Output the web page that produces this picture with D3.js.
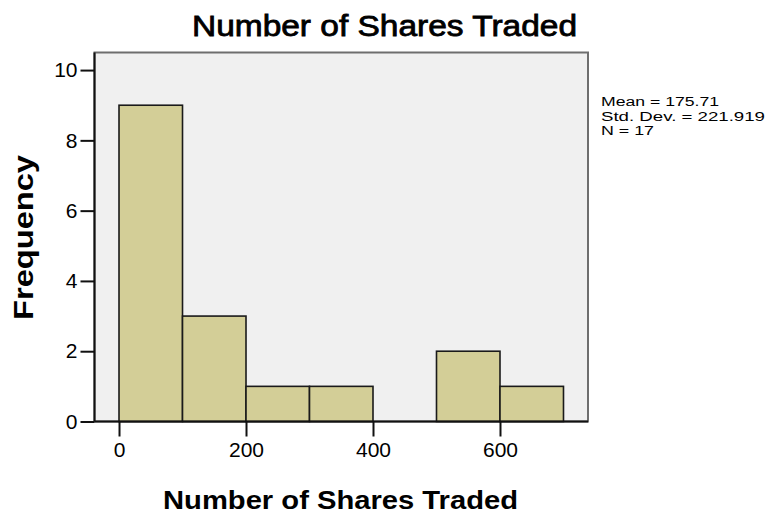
<!DOCTYPE html>
<html>
<head>
<meta charset="utf-8">
<script src="https://cdn.jsdelivr.net/npm/d3@7"></script>
<style>
  body { margin: 0; background: #fff; }
  text { font-family: "Liberation Sans", Arial, sans-serif; fill: #000; }
</style>
</head>
<body>
<div id="hist"></div>
<script>
// data: bin edges and counts
const binStart = [0, 100, 200, 300, 500, 600];
const binEnd   = [100, 200, 300, 400, 600, 700];
const counts   = [9, 3, 1, 1, 2, 1];
const xTicks = [0, 200, 400, 600];
const yTicks = [0, 2, 4, 6, 8, 10];
const statLines = ["Mean = 175.71", "Std. Dev. = 221.919", "N = 17"];

const width = 768, height = 518;
// plot box in pixels
const box = {left: 94.5, right: 588, top: 52.5, bottom: 421.5};

const svg = d3.select("#hist")
  .append("svg")
    .attr("width", width)
    .attr("height", height);

const x = d3.scaleLinear()
  .domain([-38.6, 738.6])
  .range([box.left, box.right]);

const y = d3.scaleLinear()
  .domain([0, 10.5])
  .range([box.bottom, box.top]);

//plot background
svg.append("rect")
  .attr("x", box.left)
  .attr("y", box.top)
  .attr("width", box.right - box.left)
  .attr("height", box.bottom - box.top)
  .attr("fill", "#f0f0f0")
  .attr("stroke", "#6e6e6e")
  .attr("stroke-width", 2);

//bars
svg.selectAll("rect.bar")
  .data(counts)
  .join("rect")
    .attr("class", "bar")
    .attr("x", (d, i) => x(binStart[i]))
    .attr("y", d => y(d))
    .attr("width", (d, i) => x(binEnd[i]) - x(binStart[i]))
    .attr("height", d => y(0) - y(d))
    .attr("fill", "#d3ce97")
    .attr("stroke", "#1a1a1a")
    .attr("stroke-width", 1.6);

//axis lines (left + bottom are black)
svg.append("line")
  .attr("x1", box.left).attr("x2", box.left)
  .attr("y1", box.top).attr("y2", box.bottom)
  .attr("stroke", "#111").attr("stroke-width", 2);
svg.append("line")
  .attr("x1", box.left).attr("x2", box.right)
  .attr("y1", box.bottom).attr("y2", box.bottom)
  .attr("stroke", "#111").attr("stroke-width", 2);

//y axis
const yAxis = svg.append("g")
  .attr("transform", `translate(${box.left},0)`)
  .call(d3.axisLeft(y).tickValues(yTicks).tickSize(14).tickPadding(3));
yAxis.select(".domain").remove();
yAxis.selectAll(".tick line").attr("stroke", "#111").attr("stroke-width", 2);
yAxis.selectAll(".tick text")
  .style("font-size", "21px")
  .style("font-family", "Liberation Sans, Arial, sans-serif")
  .attr("fill", "#111");

//x axis
const xAxis = svg.append("g")
  .attr("transform", `translate(0,${box.bottom})`)
  .call(d3.axisBottom(x).tickValues(xTicks).tickSize(15).tickPadding(6));
xAxis.select(".domain").remove();
xAxis.selectAll(".tick line").attr("stroke", "#111").attr("stroke-width", 2);
xAxis.selectAll(".tick text")
  .style("font-size", "21px")
  .style("font-family", "Liberation Sans, Arial, sans-serif")
  .attr("fill", "#111");

//title
svg.append("text")
  .attr("x", 192).attr("y", 36)
  .attr("textLength", 385).attr("lengthAdjust", "spacingAndGlyphs")
  .style("font-size", "29px")
  .attr("stroke", "#000").attr("stroke-width", 0.8)
  .text("Number of Shares Traded");

//x label
svg.append("text")
  .attr("x", 163).attr("y", 509)
  .attr("textLength", 355).attr("lengthAdjust", "spacingAndGlyphs")
  .style("font-size", "26px")
  .style("font-weight", "bold")
  .text("Number of Shares Traded");

//y label
svg.append("text")
  .attr("transform", "translate(33,320) rotate(-90)")
  .attr("textLength", 165).attr("lengthAdjust", "spacingAndGlyphs")
  .style("font-size", "27px")
  .style("font-weight", "bold")
  .text("Frequency");

//stats box text
const statLen = [118, 164, 53];
svg.selectAll("text.stat")
  .data(statLines)
  .join("text")
    .attr("class", "stat")
    .attr("x", 601)
    .attr("y", (d, i) => 106 + i * 14.5)
    .attr("textLength", (d, i) => statLen[i])
    .attr("lengthAdjust", "spacingAndGlyphs")
    .style("font-size", "12.5px")
    .text(d => d);
</script>
</body>
</html>
